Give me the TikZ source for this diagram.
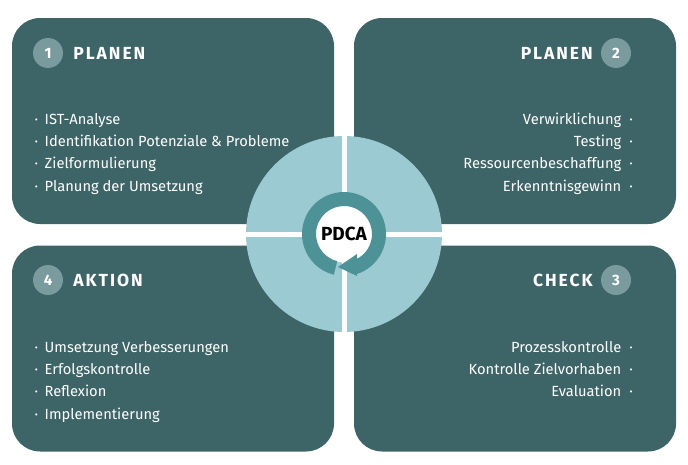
\documentclass[tikz,border=0pt]{standalone}
\usepackage{fontspec}
\setmainfont{Fira Sans}
\newfontfamily\headfont{Fira Sans}[LetterSpace=11]
\usetikzlibrary{positioning}
\definecolor{boxTeal}{HTML}{3D6567}
\definecolor{wheelBlue}{HTML}{9CCAD2}
\definecolor{ringTeal}{HTML}{4D9296}
\definecolor{badgeGrey}{HTML}{7A9B9D}

\newcommand{\lbul}{·\hspace{6.5pt}}
\newcommand{\rbul}{\hspace{8pt}·}

\begin{document}
\begin{tikzpicture}[
    x=1pt, y=-1pt,
    phase/.style={fill=boxTeal, rounded corners=28pt, minimum width=322pt, minimum height=206pt, inner sep=0pt},
    badge/.style={circle, fill=badgeGrey, minimum size=30pt, inner sep=0pt, text=white, font=\fontsize{15}{15}\selectfont\bfseries},
    title/.style={inner sep=0pt, text=white, font=\headfont\fontsize{17.5}{17.5}\selectfont\bfseries},
    item/.style={inner sep=0pt, text=white, text height=16pt, text depth=6pt, font=\fontsize{14.7}{16}\selectfont},
    gapline/.style={draw=white, line width=5pt}
]
    \useasboundingbox (0,0) rectangle (688,464);

    % Phase boxes
    \node[phase] (plan) at (173,121) {};
    \node[phase] (do) at (515,121) {};
    \node[phase] (check) at (515,348.5) {};
    \node[phase] (act) at (173,348.5) {};

    % Headers
    \node[badge] (n1) at (48,53) {1};
    \node[title, right=10pt of n1] (t1) {PLANEN};
    \node[badge] (n2) at (616,53) {2};
    \node[title, left=8pt of n2] (t2) {PLANEN};
    \node[badge] (n3) at (616,280) {3};
    \node[title, left=8pt of n3] (t3) {CHECK};
    \node[badge] (n4) at (48,280) {4};
    \node[title, right=10pt of n4] (t4) {AKTION};

    % Plan items (left)
    \node[item, anchor=base west] (p1) at (34.5,124) {\lbul IST-Analyse};
    \node[item, below=0pt of p1.south west, anchor=north west] (p2) {\lbul Identifikation Potenziale \& Probleme};
    \node[item, below=0pt of p2.south west, anchor=north west] (p3) {\lbul Zielformulierung};
    \node[item, below=0pt of p3.south west, anchor=north west] (p4) {\lbul Planung der Umsetzung};

    % Do items (right)
    \node[item, anchor=base east] (d1) at (633,124) {Verwirklichung\rbul};
    \node[item, below=0pt of d1.south east, anchor=north east] (d2) {Testing\rbul};
    \node[item, below=0pt of d2.south east, anchor=north east] (d3) {Ressourcenbeschaffung\rbul};
    \node[item, below=0pt of d3.south east, anchor=north east] (d4) {Erkenntnisgewinn\rbul};

    % Check items (right)
    \node[item, anchor=base east] (c1) at (633,352) {Prozesskontrolle\rbul};
    \node[item, below=0pt of c1.south east, anchor=north east] (c2) {Kontrolle Zielvorhaben\rbul};
    \node[item, below=0pt of c2.south east, anchor=north east] (c3) {Evaluation\rbul};

    % Act items (left)
    \node[item, anchor=base west] (a1) at (34.5,352) {\lbul Umsetzung Verbesserungen};
    \node[item, below=0pt of a1.south west, anchor=north west] (a2) {\lbul Erfolgskontrolle};
    \node[item, below=0pt of a2.south west, anchor=north west] (a3) {\lbul Reflexion};
    \node[item, below=0pt of a3.south west, anchor=north west] (a4) {\lbul Implementierung};

    % Wheel in the middle
    \node[circle, fill=wheelBlue, minimum size=196pt, inner sep=0pt] (wheel) at (344,234) {};
    \draw[gapline] (wheel.north) -- (wheel.south);
    \draw[gapline] (wheel.west) -- (wheel.east);
    \node[circle, fill=white, minimum size=57pt, inner sep=0pt, font=\fontsize{19}{19}\selectfont\bfseries] (pdca) at (344,234) {PDCA};

    % Cycle arrow round the hub
    \fill[ringTeal, shift={(344,234)}] (72:42) arc[start angle=72, end angle=-256, radius=42]
        -- (104:28) arc[start angle=-256, end angle=62.3, radius=28]
        -- (13,20) -- (-6,33) -- (13,42) -- cycle;
\end{tikzpicture}
\end{document}
